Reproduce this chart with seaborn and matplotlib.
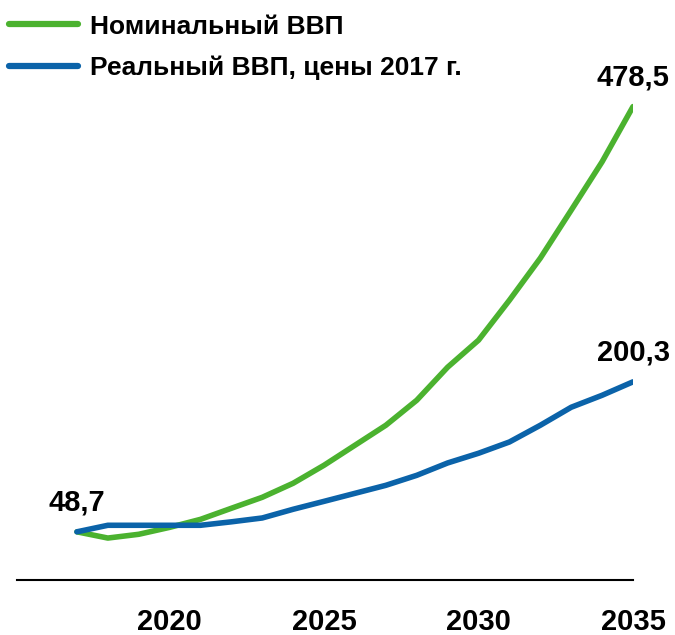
import matplotlib
matplotlib.use("Agg")
import matplotlib.pyplot as plt
import numpy as np
import pandas as pd
import seaborn as sns

# Data
years = list(range(2017, 2036))
nominal = [48.7, 42.4, 46.2, 53.2, 61.3, 72.5, 83.6, 97.8, 116.0, 136.2,
           156.4, 181.7, 215.1, 242.4, 282.8, 325.3, 373.8, 422.7, 478.5]
real = [48.7, 55.3, 55.3, 55.3, 55.3, 58.8, 62.7, 71.5, 79.5, 87.6,
        95.7, 105.8, 118.3, 128.1, 139.5, 156.4, 174.6, 186.7, 200.3]
series_names = ["Номинальный ВВП", "Реальный ВВП, цены 2017 г."]
tick_years = [2020, 2025, 2030, 2035]

GREEN = "#4BB22F"
BLUE = "#0B63A9"

df = pd.DataFrame({
    "year": years * 2,
    "value": nominal + real,
    "series": [series_names[0]] * len(years) + [series_names[1]] * len(years),
})

sns.set_theme(style="white")
plt.rcParams["font.family"] = ["Liberation Sans", "DejaVu Sans"]
plt.rcParams["text.color"] = "black"

fig = plt.figure(figsize=(6.75, 6.35), dpi=100)
ax = fig.add_axes([17 / 675, 55 / 635, 616 / 675, 560 / 635])

sns.lineplot(data=df, x="year", y="value", hue="series",
             palette={series_names[0]: GREEN, series_names[1]: BLUE},
             linewidth=4.0, ax=ax, legend=False)

ax.set_xlim(2015.06, 2035)
ax.set_ylim(0, 566)
ax.set_xlabel("")
ax.set_ylabel("")
ax.set_yticks([])
ax.set_xticks(tick_years)
ax.set_xticklabels([str(y) for y in tick_years], fontsize=21, fontweight="bold")
ax.tick_params(axis="x", length=0, pad=20, colors="black")
for side in ["top", "right", "left"]:
    ax.spines[side].set_visible(False)
ax.spines["bottom"].set_color("black")
ax.spines["bottom"].set_linewidth(1.5)

# value labels
lab_kw = dict(fontsize=21, fontweight="bold", color="black", ha="center", va="bottom")
ax.annotate(f"{nominal[0]}".replace(".", ","), (years[0], nominal[0]),
            xytext=(0, 11), textcoords="offset points", **lab_kw)
ax.annotate(f"{nominal[-1]}".replace(".", ","), (years[-1], nominal[-1]),
            xytext=(0, 11), textcoords="offset points", **lab_kw)
ax.annotate(f"{real[-1]}".replace(".", ","), (years[-1], real[-1]),
            xytext=(0, 11), textcoords="offset points", **lab_kw)

# legend
handles = [plt.Line2D([], [], color=GREEN, linewidth=4.5),
           plt.Line2D([], [], color=BLUE, linewidth=4.5)]
leg = fig.legend(handles, series_names, loc="upper left",
                 bbox_to_anchor=(9 / 675, 1 - 14.5 / 635), frameon=False,
                 prop={"family": "Liberation Sans", "weight": "bold", "size": 19},
                 handlelength=2.61, handletextpad=0.45, labelspacing=0.66,
                 borderpad=0, borderaxespad=0)
for t in leg.get_texts():
    t.set_color("black")

fig.savefig("out.png", dpi=100)
